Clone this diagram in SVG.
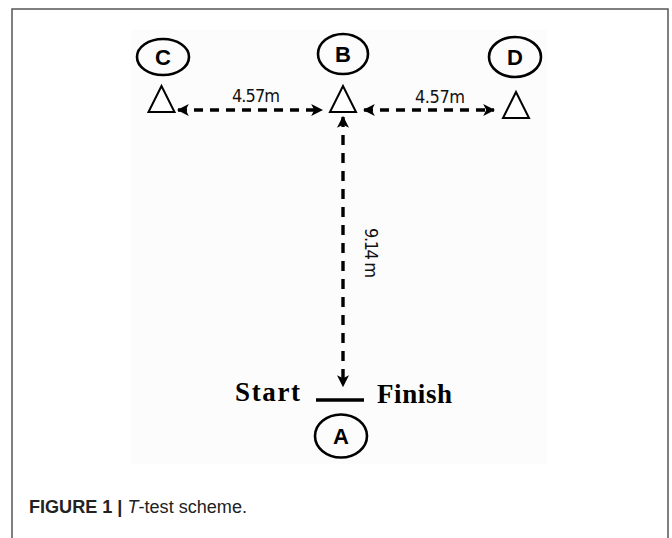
<svg xmlns="http://www.w3.org/2000/svg" width="672" height="538" viewBox="0 0 672 538">
<defs>
<style>
.node ellipse{fill:none;stroke:#000;stroke-width:2.6}
.node text{font-family:"Liberation Sans",Arial,sans-serif;font-weight:bold;font-size:22px;text-anchor:middle;fill:#000}
.cone{fill:#fff;stroke:#000;stroke-width:2;stroke-linejoin:miter}
.dash{stroke:#000;stroke-width:3.4;stroke-dasharray:9 7;fill:none}
.vdash{stroke:#000;stroke-width:3.4;stroke-dasharray:10 8;fill:none}
.dist{font-family:"DejaVu Sans Condensed","Liberation Sans",sans-serif;font-size:18px;fill:#111}
.serif{font-family:"Liberation Serif","Times New Roman",serif;font-weight:bold;font-size:27px;fill:#000}
</style>
<marker id="ah" viewBox="0 0 10 10" refX="9" refY="5" markerWidth="12" markerHeight="12" markerUnits="userSpaceOnUse" orient="auto-start-reverse">
<path d="M0,0 L10,5 L0,10 L2.5,5 Z" fill="#000"/>
</marker>
</defs>
<rect x="0" y="0" width="672" height="538" fill="#fff"/>
<rect x="12" y="9" width="656" height="540" fill="#fff" stroke="#555" stroke-width="1.5"/>
<rect x="131" y="30" width="416" height="434" fill="#fcfcfc"/>

<g id="connectors">
<line class="dash" x1="178" y1="110" x2="322" y2="110" marker-start="url(#ah)" marker-end="url(#ah)"/>
<line class="dash" x1="364" y1="110" x2="494" y2="110" marker-start="url(#ah)" marker-end="url(#ah)"/>
<line class="vdash" x1="343" y1="117" x2="343" y2="386" marker-start="url(#ah)" marker-end="url(#ah)"/>
<text class="dist" x="256" y="102" text-anchor="middle" textLength="48">4.57m</text>
<text class="dist" x="440" y="103" text-anchor="middle" textLength="50">4.57m</text>
<text class="dist" transform="translate(365,253) rotate(90)" text-anchor="middle" textLength="50">9.14 m</text>
</g>

<g id="node-C" class="node">
<ellipse cx="163" cy="57" rx="26" ry="18"/>
<text x="163" y="65">C</text>
<polygon class="cone" points="161.5,86 148.5,112 174.5,112"/>
</g>
<g id="node-B" class="node">
<ellipse cx="343" cy="54" rx="25" ry="20"/>
<text x="343" y="62">B</text>
<polygon class="cone" points="343,86 330,112 356,112"/>
</g>
<g id="node-D" class="node">
<ellipse cx="515" cy="57" rx="26" ry="20"/>
<text x="515" y="65">D</text>
<polygon class="cone" points="516,92 503,118 529,118"/>
</g>
<g id="node-A" class="node">
<line x1="316" y1="400" x2="364" y2="400" stroke="#000" stroke-width="3.5"/>
<text class="serif" x="235" y="401" style="text-anchor:start;font-family:'Liberation Serif',serif;font-size:27px" textLength="65">Start</text>
<text class="serif" x="377" y="403" style="text-anchor:start;font-family:'Liberation Serif',serif;font-size:27px" textLength="75">Finish</text>
<ellipse cx="341" cy="436" rx="26" ry="21.5"/>
<text x="341" y="444">A</text>
</g>

<text x="29" y="513" font-family="'Liberation Sans',Arial,sans-serif" font-size="18" fill="#222" textLength="218" lengthAdjust="spacingAndGlyphs"><tspan font-weight="bold">FIGURE 1 | </tspan><tspan font-style="italic">T</tspan>-test scheme.</text>
</svg>
